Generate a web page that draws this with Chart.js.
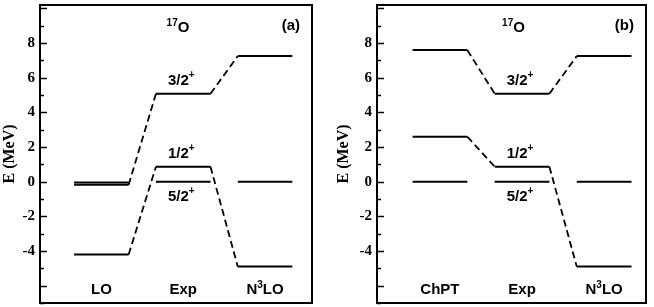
<!DOCTYPE html>
<html><head><meta charset="utf-8">
<script src="https://cdn.jsdelivr.net/npm/chart.js@4/dist/chart.umd.min.js"></script>
<style>
html,body{margin:0;padding:0;background:#fff;}
#wrap{position:relative;width:654px;height:307px;overflow:hidden;}
.panel{position:absolute;top:0;height:307px;}
</style></head><body>
<div id="wrap">
<div class="panel" style="left:0;width:327px"><canvas id="ca"></canvas></div>
<div class="panel" style="left:327px;width:327px"><canvas id="cb"></canvas></div>
</div>
<script>
// ---- data ----
const categoriesA = ['LO', 'Exp', 'N{3}LO'];
const categoriesB = ['ChPT', 'Exp', 'N{3}LO'];
const stateLabels = ['5/2{+}', '1/2{+}', '3/2{+}'];
const statePlacement = ['below', 'above', 'above'];
const stateLinked = [false, true, true];
const loLevels   = [-0.05, -4.2, -0.17];
const chptLevels = [0, 2.6, 7.6];
const expLevels  = [0, 0.87, 5.08];
const n3loLevels = [0, -4.9, 7.25];
const yMin = -7, yMax = 10.2;
const yLabelMin = -4, yLabelMax = 8;
const nucleusLabel = '{17}O';
const panelTags = ['(a)', '(b)'];
const yTitle = 'E (MeV)';

// ---- helpers ----
const SANS = '"Liberation Sans", Arial, sans-serif';
const SERIF = '"Liberation Serif", "Times New Roman", serif';

function richParts(str) {
  const out = [];
  const re = /\{([^}]*)\}/g;
  let last = 0, m;
  while ((m = re.exec(str)) !== null) {
    if (m.index > last) out.push({ t: str.slice(last, m.index), sup: false });
    out.push({ t: m[1], sup: true });
    last = re.lastIndex;
  }
  if (last < str.length) out.push({ t: str.slice(last), sup: false });
  return out;
}
function drawRich(ctx, str, x, y, size, align) {
  const parts = richParts(str);
  const supSize = Math.round(size * 0.66);
  const fN = `bold ${size}px ${SANS}`, fS = `bold ${supSize}px ${SANS}`;
  let w = 0;
  parts.forEach(p => { ctx.font = p.sup ? fS : fN; p.w = ctx.measureText(p.t).width; w += p.w; });
  let cx = align === 'center' ? x - w / 2 : (align === 'right' ? x - w : x);
  ctx.textBaseline = 'alphabetic';
  ctx.textAlign = 'left';
  parts.forEach(p => {
    ctx.font = p.sup ? fS : fN;
    ctx.fillText(p.t, cx, p.sup ? y - size * 0.42 : y);
    cx += p.w;
  });
}

function buildDatasets(models) {
  const ds = [];
  models.forEach((levels, i) => {
    levels.forEach((v, s) => {
      ds.push({ data: [{ x: 1.25 + 3 * i, y: v }, { x: 3.25 + 3 * i, y: v }],
        borderColor: '#000', borderWidth: 2, pointRadius: 0, fill: false, tension: 0 });
      if (i < models.length - 1 && stateLinked[s]) {
        ds.push({ data: [{ x: 3.25 + 3 * i, y: v }, { x: 4.25 + 3 * i, y: models[i + 1][s] }],
          borderColor: '#000', borderWidth: 1.8, borderDash: [7, 4], pointRadius: 0, fill: false, tension: 0 });
      }
    });
  });
  return ds;
}

function decorPlugin(categories, tag) {
  return {
    id: 'decor',
    afterDraw(chart) {
      const ctx = chart.ctx, a = chart.chartArea, ys = chart.scales.y, xs = chart.scales.x;
      ctx.save();
      ctx.strokeStyle = '#000'; ctx.fillStyle = '#000';
      ctx.lineWidth = 2;
      ctx.strokeRect(a.left, a.top, a.right - a.left, a.bottom - a.top);
      ctx.lineWidth = 1.5;
      for (let v = Math.ceil(yMin); v <= Math.floor(yMax); v++) {
        const py = Math.round(ys.getPixelForValue(v)) + 0.5;
        const len = (v % 2 === 0) ? 7 : 4;
        ctx.beginPath(); ctx.moveTo(a.left, py); ctx.lineTo(a.left + len, py); ctx.stroke();
      }
      categories.forEach((c, i) => {
        drawRich(ctx, c, xs.getPixelForValue(2.25 + 3 * i), a.bottom - 9, 15, 'center');
      });
      const ex = xs.getPixelForValue(5.25) - 2;
      stateLabels.forEach((lab, s) => {
        const py = ys.getPixelForValue(expLevels[s]);
        const by = statePlacement[s] === 'above' ? py - 9 : py + 19;
        drawRich(ctx, lab, ex, by, 15, 'center');
      });
      drawRich(ctx, nucleusLabel, (a.left + a.right) / 2 + 2, 32, 15, 'center');
      drawRich(ctx, tag, a.right - 12, 30, 15, 'right');
      ctx.restore();
    }
  };
}

function makeChart(id, models, categories, tag, xMin, xMax, padding, axisW) {
  return new Chart(document.getElementById(id), {
    type: 'line',
    data: { datasets: buildDatasets(models) },
    options: {
      responsive: true, maintainAspectRatio: false, animation: false,
      devicePixelRatio: 1,
      layout: { padding },
      plugins: { legend: { display: false }, tooltip: { enabled: false } },
      scales: {
        x: { type: 'linear', min: xMin, max: xMax, display: false },
        y: {
          type: 'linear', min: yMin, max: yMax,
          grid: { display: false, drawTicks: false },
          border: { display: false },
          ticks: {
            stepSize: 1, autoSkip: false, padding: 5, color: '#000',
            font: { family: SERIF, weight: 'bold', size: 15 },
            callback: v => (Number.isInteger(v) && v % 2 === 0 && v >= yLabelMin && v <= yLabelMax) ? String(v) : null
          },
          title: { display: true, text: yTitle, color: '#000', padding: { top: 0, bottom: 0 },
            font: { family: SERIF, weight: 'bold', size: 16 } },
          afterFit(scale) { scale.width = axisW; scale.paddingTop = 0; scale.paddingBottom = 0; }
        }
      }
    },
    plugins: [decorPlugin(categories, tag)]
  });
}

makeChart('ca', [loLevels, expLevels, n3loLevels], categoriesA, panelTags[0], 0, 9.97,
  { left: 0, right: 15, top: 5, bottom: 4 }, 40);
makeChart('cb', [chptLevels, expLevels, n3loLevels], categoriesB, panelTags[1], -0.05, 9.78,
  { left: 7, right: 8, top: 5, bottom: 4 }, 43);
</script>
</body></html>
